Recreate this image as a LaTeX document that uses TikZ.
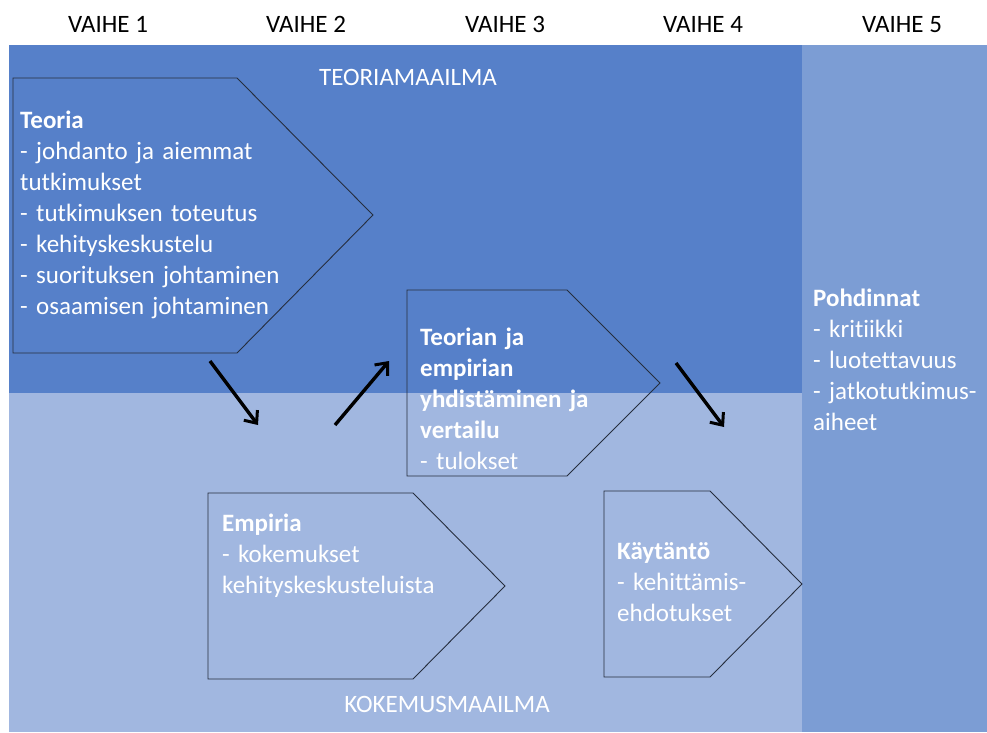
\documentclass[tikz,border=0pt]{standalone}
\usepackage{fontspec}
\setmainfont{Carlito}[Ligatures=NoCommon]
\usetikzlibrary{arrows.meta}
\definecolor{teoblue}{RGB}{86,128,201}
\definecolor{kokblue}{RGB}{161,183,224}
\definecolor{pohblue}{RGB}{124,157,212}
\definecolor{edgegray}{RGB}{38,46,62}

\begin{document}
\begin{tikzpicture}[x=1pt,y=-1pt,
  pent/.style={draw=edgegray,line width=0.9pt},
  phase/.style={anchor=base,inner sep=0pt,font=\fontsize{25}{30}\selectfont},
  world/.style={anchor=base,inner sep=0pt,text=white,font=\fontsize{25}{30}\selectfont},
  txt/.style={anchor=base west,text width=#1,align=left,inner sep=0pt,text=white,font=\fontsize{25}{31}\selectfont},
  flow/.style={-{Straight Barb[length=10pt,width=17pt,line width=3pt]},line width=3.4pt,black}]
  \useasboundingbox (0,0) rectangle (987,732);
  % taustat
  \fill[white] (0,0) rectangle (987,732);
  \fill[teoblue] (9,45) rectangle (802,393);
  \fill[kokblue] (9,393) rectangle (802,732);
  \fill[pohblue] (802,45) rectangle (987,732);
  % vaiheet
  \foreach \i/\x in {1/108,2/306,3/505,4/703,5/902}
    \node[phase] (vaihe\i) at (\x,32) {VAIHE \i};
  \node[world] (teoriamaailma) at (408,85) {TEORIAMAAILMA};
  \node[world] (kokemusmaailma) at (447,712) {KOKEMUSMAAILMA};
  % nuolilaatikot
  \draw[pent] (13,78) -- (237,78) -- (373,215) -- (237,353) -- (13,353) -- cycle;
  \draw[pent] (407,290) -- (567,290) -- (660,383) -- (567,476) -- (407,476) -- cycle;
  \draw[pent] (208,493) -- (413,493) -- (505,586) -- (413,679) -- (208,679) -- cycle;
  \draw[pent] (604,491) -- (710,491) -- (802,584) -- (710,677) -- (604,677) -- cycle;
  \node[txt=330] (teoria) at (20,128) {\textbf{Teoria}\\- johdanto ja aiemmat\\tutkimukset\\- tutkimuksen toteutus\\- kehityskeskustelu\\- suorituksen johtaminen\\- osaamisen johtaminen};
  \node[txt=240] (yhdist) at (420,345) {\textbf{Teorian ja}\\\textbf{empirian}\\\textbf{yhdistäminen ja}\\\textbf{vertailu}\\- tulokset};
  \node[txt=260] (empiria) at (222,531) {\textbf{Empiria}\\- kokemukset\\kehityskeskusteluista};
  \node[txt=180] (kaytanto) at (617,559) {\textbf{Käytäntö}\\- kehittämis-\\ehdotukset};
  \node[txt=190] (pohdinnat) at (813,306) {\textbf{Pohdinnat}\\- kritiikki\\- luotettavuus\\- jatkotutkimus-\\aiheet};
  % nuolet
  \coordinate (n1a) at (210,361);
  \coordinate (n1b) at (258,425);
  \coordinate (n2a) at (335,425);
  \coordinate (n2b) at (389,361);
  \coordinate (n3a) at (676,363);
  \coordinate (n3b) at (724,427);
  \draw[flow] (n1a) -- (n1b);
  \draw[flow] (n2a) -- (n2b);
  \draw[flow] (n3a) -- (n3b);
\end{tikzpicture}
\end{document}
